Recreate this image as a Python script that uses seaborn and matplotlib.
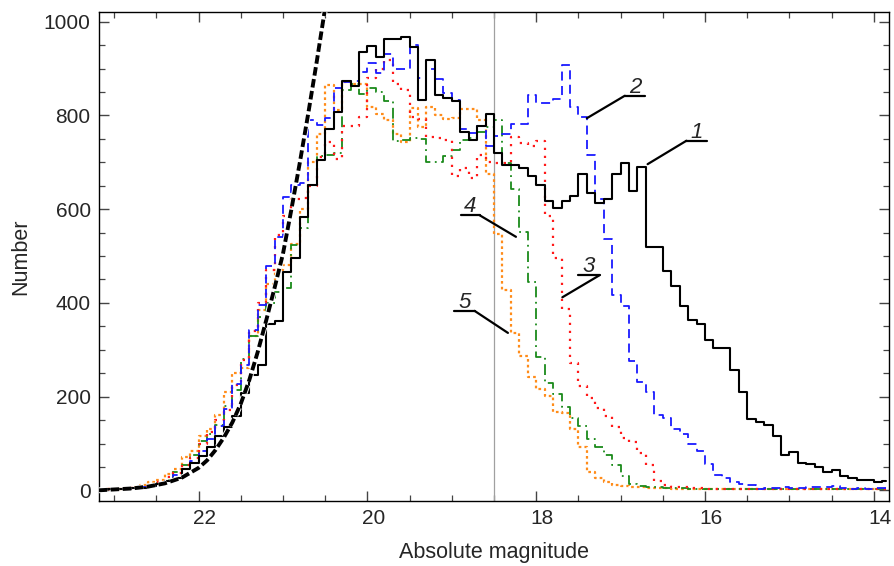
import numpy as np
import pandas as pd
import matplotlib
matplotlib.use("Agg")
import matplotlib.pyplot as plt
import matplotlib.patheffects as pe
import matplotlib.transforms as mtransforms
from matplotlib.ticker import MultipleLocator
import seaborn as sns

# bin centres (absolute magnitude), 0.1 mag bins from 23.15 down to 13.85
bin_centers = np.round(np.arange(23.15, 13.80, -0.1), 2)

counts_1 = [1, 2, 3, 3, 5, 6, 9, 13, 19, 26,
            45, 58, 73, 92, 116, 135, 158, 207, 246, 268,
            355, 362, 465, 495, 584, 651, 705, 772, 808, 874,
            862, 936, 948, 925, 962, 962, 968, 945, 833, 918,
            843, 838, 831, 765, 747, 778, 803, 720, 695, 695,
            687, 671, 652, 618, 602, 618, 629, 675, 634, 614,
            622, 676, 698, 638, 690, 520, 520, 467, 435, 394,
            363, 355, 321, 303, 303, 257, 210, 152, 146, 140,
            115, 76, 81, 58, 56, 49, 39, 44, 31, 26,
            22, 22, 17, 20]

counts_2 = [1, 2, 3, 4, 5, 8, 10, 14, 20, 32,
            45, 62, 85, 110, 138, 173, 228, 268, 342, 395,
            478, 541, 626, 651, 655, 790, 779, 794, 858, 872,
            874, 893, 911, 890, 932, 900, 900, 950, 879, 900,
            877, 847, 833, 770, 763, 777, 735, 756, 760, 782,
            782, 843, 826, 826, 836, 907, 818, 797, 715, 622,
            537, 417, 393, 276, 231, 209, 161, 154, 132, 120,
            100, 84, 56, 33, 26, 17, 14, 12, 4, 5,
            5, 7, 5, 6, 8, 8, 8, 10, 5, 4,
            6, 3, 5, 6]

counts_3 = [1, 2, 3, 4, 6, 8, 12, 18, 28, 38,
            55, 70, 100, 125, 150, 172, 225, 278, 340, 400,
            470, 545, 585, 622, 623, 650, 712, 744, 708, 778,
            778, 796, 880, 900, 918, 868, 854, 796, 792, 754,
            751, 747, 670, 687, 667, 715, 700, 698, 698, 754,
            742, 734, 746, 585, 495, 386, 271, 222, 198, 175,
            158, 136, 112, 104, 80, 55, 20, 12, 8, 7,
            6, 5, 4, 4, 3, 4, 3, 3, 4, 3,
            2, 3, 3, 4, 2, 3, 3, 2, 3, 2,
            3, 2, 2, 3]

counts_4 = [1, 2, 3, 4, 5, 7, 10, 15, 22, 40,
            55, 75, 105, 120, 140, 180, 215, 280, 330, 370,
            400, 424, 432, 523, 560, 651, 714, 715, 720, 855,
            868, 845, 858, 850, 830, 745, 748, 752, 750, 700,
            700, 714, 726, 747, 752, 765, 775, 790, 698, 644,
            552, 445, 285, 229, 205, 177, 154, 138, 110, 92,
            76, 54, 30, 14, 10, 8, 7, 6, 5, 5,
            4, 4, 3, 4, 3, 3, 4, 3, 2, 3,
            3, 2, 3, 2, 3, 2, 2, 3, 2, 2,
            3, 2, 2, 2]

counts_5 = [1, 2, 4, 5, 8, 12, 17, 22, 35, 45,
            72, 83, 116, 130, 160, 210, 250, 262, 330, 385,
            440, 470, 480, 525, 600, 700, 760, 865, 811, 872,
            868, 868, 818, 804, 790, 760, 744, 815, 775, 818,
            801, 792, 795, 813, 813, 790, 676, 547, 428, 335,
            287, 242, 217, 202, 167, 165, 130, 92, 40, 27,
            17, 12, 10, 8, 7, 6, 5, 5, 4, 4,
            3, 4, 3, 3, 2, 3, 3, 2, 3, 2,
            2, 3, 2, 2, 3, 2, 2, 2, 3, 2,
            2, 2, 3, 2]

# model curve
fit_mag = [23.2, 23.0, 22.8, 22.6, 22.4, 22.2, 22.0, 21.9, 21.8, 21.7,
           21.6, 21.5, 21.4, 21.3, 21.2, 21.1, 21.0, 20.9, 20.8, 20.7,
           20.6, 20.5]
fit_val = [0, 2, 4, 8, 15, 27, 48, 64, 86, 113,
           145, 185, 235, 295, 362, 432, 505, 600, 700, 805,
           915, 1030]

series_names = ["1", "2", "3", "4", "5"]
series_counts = [counts_1, counts_2, counts_3, counts_4, counts_5]
series_colors = ["black", "#1a1aff", "#ff1a1a", "#1a8a1a", "#ff8c1a"]
series_styles = ["-", (0, (5, 3)), (0, (1, 2.6)), (0, (6, 2.5, 1, 2.5)), (0, (1.2, 1.4))]
series_widths = [1.5, 1.3, 1.6, 1.3, 1.6]

sns.set_style("ticks")
plt.rcParams["font.family"] = ["Liberation Sans", "DejaVu Sans"]

fig = plt.figure(figsize=(8.95, 5.66), dpi=100)
ax = fig.add_axes([99 / 895, 1 - 500.7 / 566, (889 - 99) / 895, (500.7 - 12.3) / 566])

ax.axvline(18.5, color="#a0a0a0", lw=0.9, zorder=1)

order = [4, 3, 2, 1, 0]
for k in order:
    sns.lineplot(x=bin_centers, y=series_counts[k], ax=ax, color=series_colors[k],
                 linestyle=series_styles[k], lw=series_widths[k], drawstyle="steps-mid",
                 estimator=None, zorder=3 + (4 - k))

sns.lineplot(x=fit_mag, y=fit_val, ax=ax, color="black", lw=2.8, estimator=None,
             linestyle=(0, (2.2, 0.9)), zorder=10,
             path_effects=[pe.withStroke(linewidth=4.2, foreground="white")])

ax.set_xlim(23.18, 13.82)
ax.set_ylim(-22, 1020)

ax.xaxis.set_major_locator(MultipleLocator(2))
ax.xaxis.set_minor_locator(MultipleLocator(0.5))
ax.yaxis.set_major_locator(MultipleLocator(200))
ax.yaxis.set_minor_locator(MultipleLocator(50))
ax.tick_params(which="both", direction="in", top=True, right=True, color="#444444",
               labelsize=15, pad=6)
ax.tick_params(which="major", length=7, width=1)
ax.tick_params(which="minor", length=4, width=0.9)
for s in ax.spines.values():
    s.set_linewidth(1.0)
    s.set_color("black")

# x tick labels sit a little to the right of their ticks in the original
shift = mtransforms.ScaledTranslation(6 / 100, 0, fig.dpi_scale_trans)
for lab in ax.get_xticklabels():
    lab.set_transform(lab.get_transform() + shift)

ax.set_xlabel("Absolute magnitude", fontsize=15.5, labelpad=10)
ax.set_ylabel("Number", fontsize=15.5, labelpad=9)

# curve labels with leader lines: (label, underline x0, x1, underline y, curve point)
labels = [
    ("1", 16.22, 15.975, 746, (16.68, 696)),
    ("2", 16.95, 16.71, 842, (17.40, 794)),
    ("3", 17.50, 17.25, 459, (17.69, 412)),
    ("4", 18.89, 18.67, 587, (18.24, 541)),
    ("5", 18.97, 18.73, 383, (18.335, 336)),
]
for name, x0, x1, yu, (px, py) in labels:
    ax.plot([x0, x1], [yu, yu], color="black", lw=1.6, zorder=12)
    if name in ("1", "2"):
        ax.plot([x0, px], [yu, py], color="black", lw=1.6, zorder=12)
    else:
        ax.plot([x1, px], [yu, py], color="black", lw=1.6, zorder=12)
    ax.text((x0 + x1) / 2, yu + 6, name, fontsize=16, style="italic",
            ha="center", va="baseline", zorder=12)

fig.savefig("out.png", dpi=100)
